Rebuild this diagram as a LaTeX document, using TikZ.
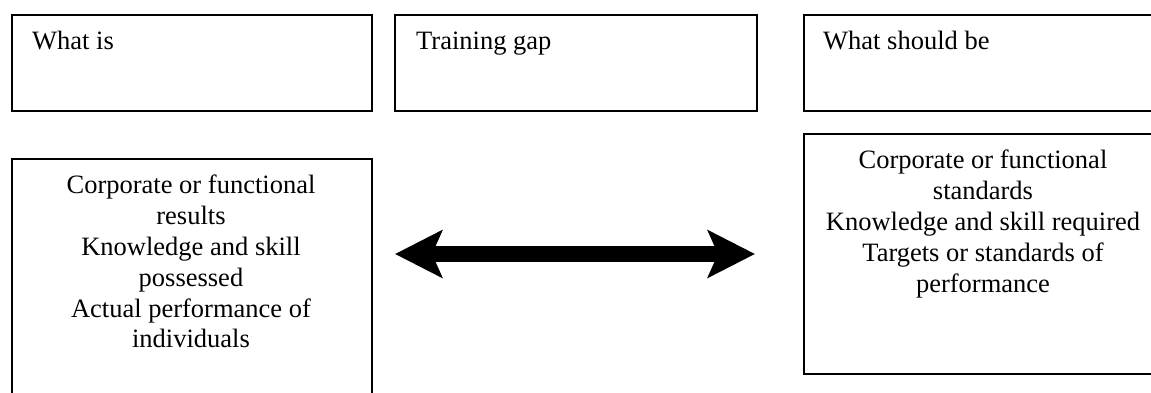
\documentclass[tikz,border=0pt]{standalone}
\usepackage{fontspec}
\setmainfont{Liberation Serif}
\usetikzlibrary{arrows.meta}

\tikzset{
  frame/.style={draw=black, line width=2.2pt, rectangle, inner sep=0pt, anchor=north west},
  heading/.style={anchor=base west, inner sep=0pt, font=\fontsize{26.5}{30.8}\selectfont},
  bodytext/.style={anchor=north, inner sep=0pt, align=center, font=\fontsize{26.5}{30.8}\selectfont},
  gaparrow/.style={line width=16pt, {Stealth[length=47pt, width=47pt, inset=10pt]}-{Stealth[length=47pt, width=47pt, inset=10pt]}}
}

\begin{document}
\begin{tikzpicture}[x=1pt, y=-1pt]
  \useasboundingbox (0,0) rectangle (1151,393);
  \clip (0,0) rectangle (1151,393);

  % heading boxes
  \node[frame, minimum width=360pt, minimum height=96pt] (isbox) at (11,14) {};
  \node[frame, minimum width=362pt, minimum height=96pt] (gapbox) at (394,14) {};
  \node[frame, minimum width=360pt, minimum height=96pt] (shouldbox) at (803,14) {};

  \node[heading] (istitle) at (32,50) {What is};
  \node[heading] (gaptitle) at (416,50) {Training gap};
  \node[heading] (shouldtitle) at (823,50) {What should be};

  % content boxes
  \node[frame, minimum width=360pt, minimum height=280pt] (isbody) at (11,158) {};
  \node[frame, minimum width=360pt, minimum height=240pt] (shouldbody) at (803,133) {};

  \node[bodytext] (istext) at (191,175) {Corporate or functional\\results\\Knowledge and skill\\possessed\\Actual performance of\\individuals};
  \node[bodytext] (shouldtext) at (983,150) {Corporate or functional\\standards\\Knowledge and skill required\\Targets or standards of\\performance};

  % double arrow across the gap
  \coordinate (leftend) at (395,254);
  \coordinate (rightend) at (755,254);
  \draw[gaparrow] (leftend) -- (rightend);
\end{tikzpicture}
\end{document}
